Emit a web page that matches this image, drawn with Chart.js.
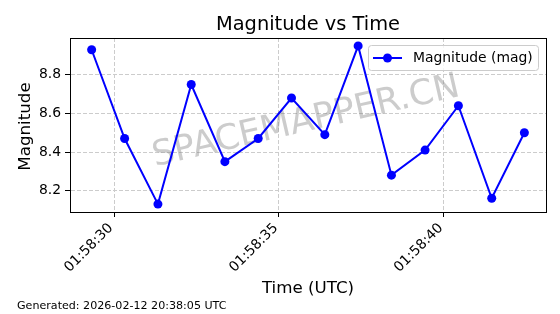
<!DOCTYPE html>
<html>
<head>
<meta charset="utf-8">
<script src="https://cdn.jsdelivr.net/npm/chart.js@4"></script>
<style>
  html, body { margin: 0; padding: 0; background: #fff; }
  #wrap { width: 560px; height: 314px; }
</style>
</head>
<body>
<div id="wrap"><canvas id="magChart" width="560" height="314"></canvas></div>
<script>
// seconds after 01:58:00 UTC
const times = [29.32, 30.32, 31.33, 32.34, 33.36, 34.37, 35.38, 36.39, 37.40, 38.41, 39.43, 40.44, 41.45, 42.44];
const magnitudes = [8.93, 8.47, 8.13, 8.75, 8.35, 8.47, 8.68, 8.49, 8.95, 8.28, 8.41, 8.64, 8.16, 8.50];
const xTickValues = [30, 35, 40];
const xTickLabels = ['01:58:30', '01:58:35', '01:58:40'];
const yTickValues = [8.2, 8.4, 8.6, 8.8];

const titleText = 'Magnitude vs Time';
const xTitle = 'Time (UTC)';
const yTitle = 'Magnitude';
const seriesLabel = 'Magnitude (mag)';
const footerText = 'Generated: 2026-02-12 20:38:05 UTC';
const watermarkText = 'SPACEMAPPER.CN';

const FONT = '"DejaVu Sans", sans-serif';
const blue = '#0000ff';

// matplotlib style 5% margins
const xSpan = times[times.length - 1] - times[0];
const xMin = times[0] - xSpan * 0.05;
const xMax = times[times.length - 1] + xSpan * 0.05;
const yLo = Math.min(...magnitudes), yHi = Math.max(...magnitudes);
const yMin = yLo - (yHi - yLo) * 0.05;
const yMax = yHi + (yHi - yLo) * 0.05;

const decorPlugin = {
    id: 'decor',
    beforeDraw(chart) {
        const c = chart.ctx;
        c.save();
        c.fillStyle = '#fff';
        c.fillRect(0, 0, chart.width, chart.height);
        c.restore();
    },
    beforeDatasetsDraw(chart) {
        const c = chart.ctx;
        const a = chart.chartArea;
        c.save();
        c.translate((a.left + a.right) / 2 - 2, 122);
        c.rotate(-13 * Math.PI / 180);
        c.font = '35px ' + FONT;
        c.fillStyle = 'rgba(128,128,128,0.4)';
        c.textAlign = 'center';
        c.textBaseline = 'middle';
        c.fillText(watermarkText, 0, 0);
        c.restore();
    },
    afterDraw(chart) {
        const c = chart.ctx;
        const a = chart.chartArea;
        const cx = (a.left + a.right) / 2;
        c.save();
        // frame
        c.strokeStyle = '#000';
        c.lineWidth = 1;
        c.strokeRect(Math.round(a.left) + 0.5, Math.round(a.top) + 0.5,
            Math.round(a.right - a.left), Math.round(a.bottom - a.top));

        // title
        c.fillStyle = '#000';
        c.textAlign = 'center';
        c.textBaseline = 'alphabetic';
        c.font = '19.4px ' + FONT;
        c.fillText(titleText, cx, 30);

        // axis titles
        c.font = '16.7px ' + FONT;
        c.textBaseline = 'middle';
        c.fillText(xTitle, cx, 289);
        c.save();
        c.translate(29.5, 126.5);
        c.rotate(-Math.PI / 2);
        c.textBaseline = 'alphabetic';
        c.fillText(yTitle, 0, 0);
        c.restore();

        // footer
        c.font = '11.1px ' + FONT;
        c.textAlign = 'left';
        c.textBaseline = 'alphabetic';
        c.fillText(footerText, 17, 309);

        // legend
        const lx = 368.5, ly = 45.5, lw = 170, lh = 25;
        c.beginPath();
        c.roundRect(lx, ly, lw, lh, 3);
        c.fillStyle = 'rgba(255,255,255,0.8)';
        c.fill();
        c.strokeStyle = '#cccccc';
        c.stroke();
        const my = ly + lh / 2;
        c.strokeStyle = blue;
        c.lineWidth = 2;
        c.beginPath();
        c.moveTo(373, my);
        c.lineTo(402, my);
        c.stroke();
        c.fillStyle = blue;
        c.beginPath();
        c.arc(387.5, my, 4.5, 0, Math.PI * 2);
        c.fill();
        c.fillStyle = '#000';
        c.font = '13.9px ' + FONT;
        c.textBaseline = 'middle';
        c.fillText(seriesLabel, 413, my);
        c.restore();
    }
};

const ctx = document.getElementById('magChart').getContext('2d');

new Chart(ctx, {
    type: 'line',
    data: {
        datasets: [{
            label: seriesLabel,
            data: times.map((t, i) => ({ x: t, y: magnitudes[i] })),
            borderColor: blue,
            backgroundColor: blue,
            borderWidth: 2,
            pointRadius: 4.5,
            pointBackgroundColor: blue,
            pointBorderWidth: 0,
            tension: 0
        }]
    },
    options: {
        responsive: false,
        animation: false,
        devicePixelRatio: 1,
        layout: { padding: { left: 0, top: 38, right: 14, bottom: 0 } },
        plugins: {
            legend: { display: false },
            title: { display: false },
            tooltip: { enabled: false }
        },
        scales: {
            x: {
                type: 'linear',
                min: xMin,
                max: xMax,
                afterBuildTicks(scale) {
                    scale.ticks = xTickValues.map(v => ({ value: v }));
                },
                afterFit(scale) {
                    scale.height = 102;
                    scale.paddingLeft = 0;
                    scale.paddingRight = 0;
                },
                ticks: {
                    autoSkip: false,
                    minRotation: 45,
                    maxRotation: 45,
                    padding: 3,
                    labelOffset: -3,
                    color: '#000',
                    font: { family: FONT, size: 13.9 },
                    callback: (v) => xTickLabels[xTickValues.indexOf(v)]
                },
                grid: {
                    color: '#cccccc',
                    lineWidth: 1,
                    tickColor: '#000',
                    tickLength: 5,
                    tickWidth: 1
                },
                border: { display: true, color: '#000', width: 1, dash: [4, 2] }
            },
            y: {
                min: yMin,
                max: yMax,
                afterBuildTicks(scale) {
                    scale.ticks = yTickValues.map(v => ({ value: v }));
                },
                afterFit(scale) {
                    scale.width = 70;
                    scale.paddingTop = 0;
                    scale.paddingBottom = 0;
                },
                ticks: {
                    padding: 4,
                    color: '#000',
                    font: { family: FONT, size: 13.9 },
                    callback: (v) => v.toFixed(1)
                },
                grid: {
                    color: '#cccccc',
                    lineWidth: 1,
                    tickColor: '#000',
                    tickLength: 5,
                    tickWidth: 1
                },
                border: { display: true, color: '#000', width: 1, dash: [4, 2] }
            }
        }
    },
    plugins: [decorPlugin]
});
</script>
</body>
</html>
